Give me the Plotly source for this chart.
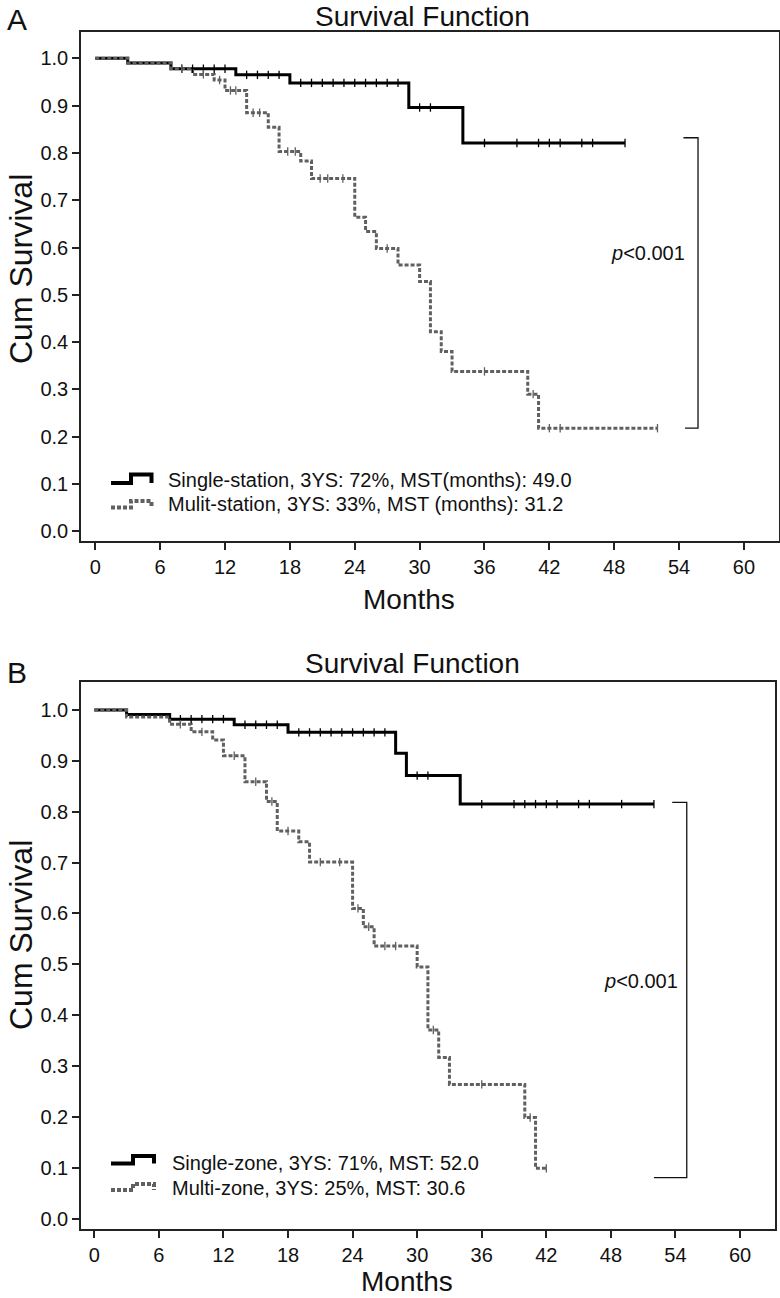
import plotly.graph_objects as go

# ---------------- data ----------------
# Panel A
A_single_t = [0, 3, 7, 13, 18, 29, 34, 49]
A_single_s = [1.0, 0.990, 0.978, 0.965, 0.948, 0.896, 0.821, 0.821]
A_single_cens = [8, 9, 10, 11, 12, 14, 15, 16, 17, 19, 20, 21, 22, 23, 24, 25, 26, 27, 28,
                 30, 31, 36, 39, 41, 42, 43, 45, 46, 49]
A_multi_t = [0, 3, 7, 9, 11, 12, 14, 16, 17, 19, 20, 24, 25, 26, 28, 30, 31, 32, 33, 40, 41, 52]
A_multi_s = [1.0, 0.990, 0.978, 0.966, 0.954, 0.932, 0.885, 0.854, 0.803, 0.783, 0.746, 0.664,
             0.634, 0.598, 0.563, 0.528, 0.422, 0.380, 0.338, 0.290, 0.218, 0.218]
A_multi_cens = [8, 10, 11.5, 12.5, 13, 14.6, 15.2, 17.8, 18.5, 20.8, 21.5, 22.9, 27, 36, 40.5, 42, 43, 52]
A_labels = ["Single-station, 3YS: 72%, MST(months): 49.0",
            "Mulit-station, 3YS: 33%, MST (months): 31.2"]
A_bracket = dict(top=0.832, bottom=0.218, x_top0=54.4, x_bot0=54.55, x_v=55.75)

# Panel B
B_single_t = [0, 3, 7, 13, 18, 28, 29, 34, 52]
B_single_s = [1.0, 0.991, 0.982, 0.971, 0.956, 0.915, 0.871, 0.815, 0.815]
B_single_cens = [8, 9, 10, 11, 12, 14, 15, 16, 17, 19, 20, 21, 22, 23, 24, 25, 26, 27,
                 30, 31, 36, 39, 40, 41, 42, 43, 45, 46, 49, 52]
B_multi_t = [0, 3, 7, 9, 11, 12, 14, 16, 17, 19, 20, 24, 25, 26, 30, 31, 32, 33, 40, 41, 42]
B_multi_s = [1.0, 0.986, 0.972, 0.957, 0.941, 0.910, 0.859, 0.820, 0.762, 0.741, 0.701, 0.610,
             0.574, 0.536, 0.495, 0.371, 0.317, 0.264, 0.199, 0.099, 0.099]
B_multi_cens = [8, 10, 13, 15, 16.5, 18, 21, 22.8, 24.5, 25.5, 27, 28, 31.5, 36, 40.5, 42]
B_labels = ["Single-zone, 3YS: 71%, MST: 52.0",
            "Multi-zone, 3YS: 25%, MST: 30.6"]
B_bracket = dict(top=0.8185, bottom=0.0806, x_top0=53.7, x_bot0=52.0, x_v=55.05)

x_ticks = [0, 6, 12, 18, 24, 30, 36, 42, 48, 54, 60]
y_ticks = [0.0, 0.1, 0.2, 0.3, 0.4, 0.5, 0.6, 0.7, 0.8, 0.9, 1.0]

# ---------------- styling ----------------
W, H = 780, 1298
FONT = "Liberation Sans, Arial, sans-serif"
BLACK = "#000000"
GRAY = "#606060"
TXT = "#111111"


def px(xp):
    return xp / W


def py(yp):
    return 1 - yp / H


def surv_at(ts, ss, t):
    v = ss[0]
    for ti, si in zip(ts, ss):
        if ti <= t:
            v = si
    return v


fig = go.Figure()

panels = [
    dict(xa="x", ya="y", xname="xaxis", yname="yaxis",
         st=A_single_t, ss=A_single_s, sc=A_single_cens,
         mt=A_multi_t, ms=A_multi_s, mc=A_multi_cens, labels=A_labels, br=A_bracket,
         xdom=[px(81), px(779)], ydom=[py(541), py(32)],
         xr=[-1.32, 63.24], yr=[-0.0205, 1.0556],
         title=(423, 16.5), letter=("A", 16.5, 19), months=(409, 599), cum=(21, 269),
         ptext=(648, 252.5), leg_x=166, leg_y=(480, 504),
         icon=dict(x0=111, xr=131, x1=151.5, lo1=483, hi1=474.5, lo2=507.5, hi2=501)),
    dict(xa="x2", ya="y2", xname="xaxis2", yname="yaxis2",
         st=B_single_t, ss=B_single_s, sc=B_single_cens,
         mt=B_multi_t, ms=B_multi_s, mc=B_multi_cens, labels=B_labels, br=B_bracket,
         xdom=[px(81), px(775)], ydom=[py(1229.3), py(682.3)],
         xr=[-1.236, 63.25], yr=[-0.0208, 1.0544],
         title=(412, 663), letter=("B", 16.5, 672.5), months=(407, 1281), cum=(21, 935),
         ptext=(641, 981), leg_x=169.5, leg_y=(1162.5, 1187.5),
         icon=dict(x0=111, xr=133, x1=154, lo1=1163.5, hi1=1156, lo2=1190, hi2=1184)),
]

annotations = []
shapes = []
layout_axes = {}

for p in panels:
    # step curves
    fig.add_trace(go.Scatter(x=p["st"], y=p["ss"], mode="lines", line_shape="hv",
                             line=dict(color=BLACK, width=3), xaxis=p["xa"], yaxis=p["ya"],
                             showlegend=False, hoverinfo="skip"))
    fig.add_trace(go.Scatter(x=p["mt"], y=p["ms"], mode="lines", line_shape="hv",
                             line=dict(color=GRAY, width=3, dash="4px,2px"),
                             xaxis=p["xa"], yaxis=p["ya"], showlegend=False, hoverinfo="skip"))
    # censor marks
    fig.add_trace(go.Scatter(x=p["sc"], y=[surv_at(p["st"], p["ss"], t) for t in p["sc"]],
                             mode="markers",
                             marker=dict(symbol="line-ns-open", size=6, color=BLACK,
                                         line=dict(color=BLACK, width=1.3)),
                             xaxis=p["xa"], yaxis=p["ya"], showlegend=False, hoverinfo="skip"))
    fig.add_trace(go.Scatter(x=p["mc"], y=[surv_at(p["mt"], p["ms"], t) for t in p["mc"]],
                             mode="markers",
                             marker=dict(symbol="line-ns-open", size=6, color=GRAY,
                                         line=dict(color=GRAY, width=1.3)),
                             xaxis=p["xa"], yaxis=p["ya"], showlegend=False, hoverinfo="skip"))

    axis_common = dict(showline=True, mirror=True, linecolor="#222222", linewidth=1.5,
                       ticks="outside", ticklen=7, tickwidth=1.5, tickcolor="#222222",
                       showgrid=False, zeroline=False,
                       tickfont=dict(family=FONT, size=20, color=TXT))
    layout_axes[p["xname"]] = dict(domain=p["xdom"], range=p["xr"], tickvals=x_ticks,
                                   anchor=p["ya"], **axis_common)
    layout_axes[p["yname"]] = dict(domain=p["ydom"], range=p["yr"], tickvals=y_ticks,
                                   tickformat=".1f", anchor=p["xa"], **axis_common)

    # text
    annotations.append(dict(text="Survival Function", x=px(p["title"][0]), y=py(p["title"][1]),
                            xref="paper", yref="paper", showarrow=False, xanchor="center",
                            yanchor="middle", font=dict(family=FONT, size=28, color=TXT)))
    annotations.append(dict(text=p["letter"][0], x=px(p["letter"][1]), y=py(p["letter"][2]),
                            xref="paper", yref="paper", showarrow=False, xanchor="center",
                            yanchor="middle", font=dict(family=FONT, size=30, color=TXT)))
    annotations.append(dict(text="Months", x=px(p["months"][0]), y=py(p["months"][1]),
                            xref="paper", yref="paper", showarrow=False, xanchor="center",
                            yanchor="middle", font=dict(family=FONT, size=28, color=TXT)))
    annotations.append(dict(text="Cum Survival", x=px(p["cum"][0]), y=py(p["cum"][1]),
                            xref="paper", yref="paper", showarrow=False, xanchor="center",
                            yanchor="middle", textangle=-90,
                            font=dict(family=FONT, size=32, color=TXT)))
    annotations.append(dict(text="<i>p</i><0.001", x=px(p["ptext"][0]), y=py(p["ptext"][1]),
                            xref="paper", yref="paper", showarrow=False, xanchor="center",
                            yanchor="middle", font=dict(family=FONT, size=20, color=TXT)))
    for lab, ly in zip(p["labels"], p["leg_y"]):
        annotations.append(dict(text=lab, x=px(p["leg_x"]), y=py(ly), xref="paper", yref="paper",
                                showarrow=False, xanchor="left", yanchor="middle",
                                font=dict(family=FONT, size=20, color=TXT)))

    # legend icons (step glyphs)
    ic = p["icon"]
    for lo, hi, col, dash in [(ic["lo1"], ic["hi1"], BLACK, "solid"),
                              (ic["lo2"], ic["hi2"], GRAY, "4px,2px")]:
        path = (f"M {px(ic['x0'])},{py(lo)} L {px(ic['xr'])},{py(lo)} "
                f"L {px(ic['xr'])},{py(hi)} L {px(ic['x1'])},{py(hi)} L {px(ic['x1'])},{py(lo)}")
        shapes.append(dict(type="path", path=path, xref="paper", yref="paper",
                           line=dict(color=col, width=4, dash=dash)))

    # significance bracket
    b = p["br"]
    bpath = (f"M {b['x_top0']},{b['top']} L {b['x_v']},{b['top']} "
             f"L {b['x_v']},{b['bottom']} L {b['x_bot0']},{b['bottom']}")
    shapes.append(dict(type="path", path=bpath, xref=p["xa"], yref=p["ya"],
                       line=dict(color=TXT, width=1.3)))

fig.update_layout(width=W, height=H, margin=dict(l=0, r=0, t=0, b=0),
                  paper_bgcolor="white", plot_bgcolor="white",
                  annotations=annotations, shapes=shapes, showlegend=False, **layout_axes)

fig.write_html("out.html", config={"displayModeBar": False},
               post_script="document.body.style.margin='0';document.body.style.overflow='hidden';")
